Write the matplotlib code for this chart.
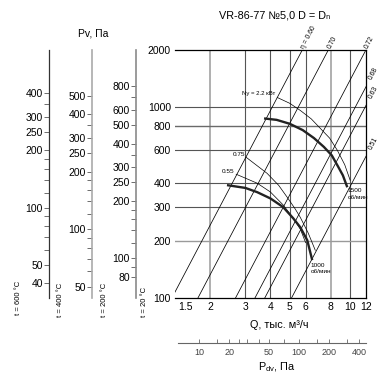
import numpy as np
import matplotlib
matplotlib.use('Agg')
import matplotlib.pyplot as plt
from matplotlib.ticker import FixedLocator, NullFormatter, FixedFormatter, NullLocator

plt.rcParams['font.family'] = ['Liberation Sans', 'DejaVu Sans']

W, H = 391, 385

# ---------------- data ----------------
q_ticks = [1.5, 2, 3, 4, 5, 6, 8, 10, 12]
q_tick_labels = ['1.5', '2', '3', '4', '5', '6', '8', '10', '12']
p_ticks = [100, 200, 300, 400, 600, 800, 1000, 2000]
p_tick_labels = ['100', '200', '300', '400', '600', '800', '1000', '2000']

# system / efficiency lines P = 100 * (Q / q100)^2
eta_labels = ['η = 0.60', '0.70', '0.72', '0.68', '0.63', '0.51']
eta_q_at_100pa = [1.29, 1.74, 2.68, 3.35, 3.75, 5.1]

# fan curves
fan1500_q = [3.72, 4.3, 5.0, 5.8, 6.6, 7.4, 8.1, 8.7, 9.2, 9.68]
fan1500_p = [875, 860, 820, 760, 690, 620, 560, 490, 440, 381]
fan1000_q = [2.43, 3.0, 3.44, 4.0, 4.63, 5.2, 5.64, 6.11, 6.47]
fan1000_p = [391, 378, 359, 333, 300, 262, 235, 201, 158]

# power curves
pow22_q = [4.33, 5.0, 5.64, 6.4, 7.1, 7.9, 8.63, 9.4, 10.0]
pow22_p = [1127, 1050, 964, 870, 776, 690, 596, 500, 415]
pow075_q = [3.03, 3.85, 4.4, 4.85, 5.3, 5.64, 6.18, 6.70]
pow075_p = [547, 451, 390, 338, 295, 265, 219, 178]
pow055_q = [2.70, 3.44, 4.0, 4.63, 5.2, 5.64, 6.0]
pow055_p = [446, 400, 360, 308, 262, 230, 195]

# temperature pressure scales
t600_major = [400, 300, 250, 200, 100, 50, 40]
t600_minor = [350, 180, 160, 140, 120, 90, 80, 70, 60]
t400_major = [500, 400, 300, 250, 200, 100, 50]
t400_minor = [350, 180, 160, 140, 120, 90, 80, 70, 60]
t200_major = [800, 600, 500, 400, 300, 250, 200, 100, 80]
t200_minor = [700, 350, 180, 160, 140, 120, 90]
temps = [600, 400, 200]

# dynamic pressure scale
pdv_major = [10, 20, 50, 100, 200, 400]
pdv_minor = [15, 25, 30, 40, 70, 150, 300]
pdv_q_at_10pa = 1.76

# ---------------- figure ----------------
fig = plt.figure(figsize=(W / 100, H / 100), dpi=100)

def box(x0, y0, x1, y1):
    return [x0 / W, 1 - y1 / H, (x1 - x0) / W, (y1 - y0) / H]

def fpos(x, y):
    return (x / W, 1 - y / H)

ax_l, ax_r, ax_t, ax_b = 175, 366, 50, 298
ax = fig.add_axes(box(ax_l, ax_t, ax_r, ax_b))
ax.set_xscale('log')
ax.set_yscale('log')
px_per_dec_x = (ax_r - 185) / np.log10(12 / 1.5)
q_lo = 1.5 / 10 ** ((185 - ax_l) / px_per_dec_x)
ax.set_xlim(q_lo, 12)
ax.set_ylim(100, 2000)

vcol = {2: '#9a9a9a', 8: '#9a9a9a'}
hcol = {200: '#9a9a9a', 800: '#6a6a6a'}
for q in q_ticks[1:-1]:
    ax.axvline(q, color=vcol.get(q, '#555555'), lw=0.8 if q not in vcol else 1.1, zorder=1)
for p in p_ticks[1:-1]:
    ax.axhline(p, color=hcol.get(p, '#555555'), lw=0.8 if p not in hcol else 1.0, zorder=1)

ax.xaxis.set_major_locator(FixedLocator(q_ticks))
ax.xaxis.set_major_formatter(FixedFormatter(q_tick_labels))
ax.xaxis.set_minor_locator(NullLocator())
ax.yaxis.set_major_locator(FixedLocator(p_ticks))
ax.yaxis.set_major_formatter(FixedFormatter(p_tick_labels))
ax.yaxis.set_minor_locator(NullLocator())
ax.tick_params(axis='both', length=0, labelsize=7.5, pad=3)
ax.spines['left'].set_visible(False)
for s in ['top', 'right', 'bottom']:
    ax.spines[s].set_linewidth(0.9)

# efficiency lines
fig.canvas.draw()
bb = ax.get_window_extent()
ppd_x = bb.width / np.log10(12 / q_lo)
ppd_y = bb.height / np.log10(20)
ang = np.degrees(np.arctan(2 * ppd_y / ppd_x))
qq = np.geomspace(1.2, 14, 100)
for lab, q100 in zip(eta_labels, eta_q_at_100pa):
    ax.plot(qq, 100 * (qq / q100) ** 2, color='black', lw=0.55, zorder=2)
    p_right = 100 * (12 / q100) ** 2
    if p_right >= 2000:
        xe, ye = q100 * np.sqrt(20), 2000
        off = (0.5, 1.5)
    else:
        xe, ye = 12, p_right
        off = (3.5, 5)
    ax.annotate(lab, xy=(xe, ye), xytext=off, textcoords='offset points',
                rotation=ang, rotation_mode='anchor', ha='left', va='center',
                fontsize=4.9, annotation_clip=False)

# power curves
ax.plot(pow22_q, pow22_p, color='black', lw=0.5, zorder=3)
ax.plot(pow075_q, pow075_p, color='black', lw=0.5, zorder=3)
ax.plot(pow055_q, pow055_p, color='black', lw=0.5, zorder=3)
# fan curves
ax.plot(fan1500_q, fan1500_p, color='#222222', lw=1.7, zorder=4, solid_capstyle='butt')
ax.plot(fan1000_q, fan1000_p, color='#222222', lw=1.7, zorder=4, solid_capstyle='butt')

ax.text(pow22_q[0] - 0.1, pow22_p[0] + 25, 'Nу = 2.2 кВт', fontsize=4.3, ha='right', va='bottom')
ax.text(pow075_q[0] - 0.05, pow075_p[0], '0.75', fontsize=4.6, ha='right', va='bottom')
ax.text(pow055_q[0] - 0.05, pow055_p[0], '0.55', fontsize=4.6, ha='right', va='bottom')
ax.text(fan1500_q[-1] + 0.05, fan1500_p[-1] - 5, '1500\nоб/мин', fontsize=4.6, ha='left', va='top', linespacing=1.3)
ax.text(fan1000_q[-1] - 0.1, fan1000_p[-1] - 5, '1000\nоб/мин', fontsize=4.6, ha='left', va='top', linespacing=1.3)

# temperature scales
scale_x = {600: 49, 400: 92, 200: 136}
scale_col = {600: '#333333', 400: '#aaaaaa', 200: '#8a8a8a'}
scale_major = {600: t600_major, 400: t400_major, 200: t200_major}
scale_minor = {600: t600_minor, 400: t400_minor, 200: t200_minor}
for t in temps:
    f = 293.0 / (273.0 + t)
    x = scale_x[t]
    a = fig.add_axes(box(x, ax_t, x + 0.5, ax_b))
    a.set_yscale('log')
    a.set_ylim(100 * f, 2000 * f)
    a.set_xticks([])
    for s in ['top', 'right', 'bottom']:
        a.spines[s].set_visible(False)
    a.spines['left'].set_color(scale_col[t])
    a.spines['left'].set_linewidth(1.2 if t != 600 else 0.9)
    a.patch.set_visible(False)
    a.yaxis.set_major_locator(FixedLocator(scale_major[t]))
    a.yaxis.set_major_formatter(FixedFormatter([str(v) for v in scale_major[t]]))
    a.yaxis.set_minor_locator(FixedLocator(scale_minor[t]))
    a.yaxis.set_minor_formatter(NullFormatter())
    a.tick_params(axis='y', which='both', length=3.5, width=0.6, color='#555555',
                  labelsize=7.5, pad=1)

# dynamic pressure scale
pdv_hi = 10 * (12 / pdv_q_at_10pa) ** 2
ap = fig.add_axes(box(ax_l + 3, 342, ax_r, 342.5))
ap.set_xscale('log')
ap.set_xlim(10 * ((q_lo * 10 ** (3 / ppd_x)) / pdv_q_at_10pa) ** 2, pdv_hi)
ap.set_yticks([])
for s in ['top', 'right', 'left']:
    ap.spines[s].set_visible(False)
ap.spines['bottom'].set_color('#666666')
ap.spines['bottom'].set_linewidth(0.8)
ap.patch.set_visible(False)
ap.xaxis.set_major_locator(FixedLocator(pdv_major))
ap.xaxis.set_major_formatter(FixedFormatter([str(v) for v in pdv_major]))
ap.xaxis.set_minor_locator(FixedLocator(pdv_minor))
ap.xaxis.set_minor_formatter(NullFormatter())
ap.tick_params(axis='x', which='both', direction='in', length=3, width=0.6,
               color='#666666', labelsize=6.5, labelcolor='#444444', pad=4)

# texts
fig.text(*fpos(275, 15), 'VR-86-77 №5,0 D = Dₙ', fontsize=7.8, ha='center', va='center')
fig.text(*fpos(93, 33), 'Pv, Па', fontsize=7.5, ha='center', va='center')
fig.text(*fpos(279, 325), 'Q, тыс. м³/ч', fontsize=7.8, ha='center', va='center')
fig.text(*fpos(277, 367), r'P$_{\mathregular{dv}}$, Па', fontsize=7.8, ha='center', va='center')
for lab, x, y in [('t = 600 °C', 18, 298), ('t = 400 °C', 61, 300),
                  ('t = 200 °C', 104, 300), ('t = 20 °C', 145, 302)]:
    fig.text(*fpos(x, y), lab, fontsize=5.5, rotation=90, ha='center', va='center')

fig.savefig('out.png', dpi=100)
